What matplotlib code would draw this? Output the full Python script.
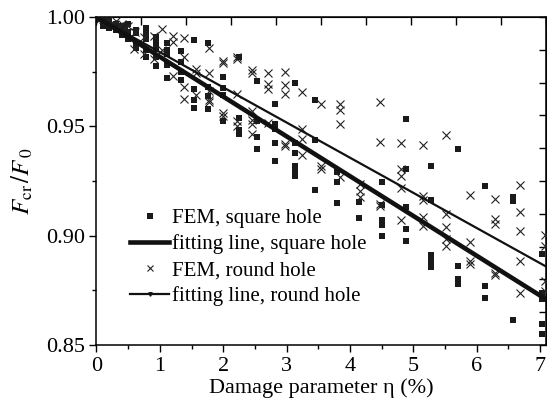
import numpy as np
import matplotlib
matplotlib.use('Agg')
import matplotlib.pyplot as plt
from matplotlib.lines import Line2D

plt.rcParams['font.family'] = ['Liberation Serif', 'DejaVu Serif']
plt.rcParams['mathtext.fontset'] = 'stix'

# FEM results, square hole (damage %, F_cr/F_0)
sq_x = [0.05, 0.1, 0.1, 0.15, 0.2, 0.2, 0.25, 0.3, 0.3, 0.35, 0.4, 0.4, 0.45,
        0.5, 0.5, 0.5, 0.63, 0.63, 0.63, 0.63,
        0.78, 0.78, 0.78, 0.78, 0.78, 0.94, 0.94, 0.94, 0.94, 0.94,
        1.12, 1.12, 1.12, 1.12, 1.12, 1.33, 1.33, 1.33, 1.33,
        1.54, 1.54, 1.54, 1.54, 1.76, 1.76, 1.76, 1.76,
        2.0, 2.0, 2.0, 2.0, 2.25, 2.25, 2.25, 2.25,
        2.53, 2.53, 2.53, 2.53, 2.82, 2.82, 2.82, 2.82, 2.82,
        3.13, 3.13, 3.13, 3.13, 3.13, 3.13, 3.45, 3.45, 3.45,
        3.79, 3.79, 3.79, 4.14, 4.14, 4.5, 4.5, 4.5, 4.5, 4.5,
        4.88, 4.88, 4.88, 4.88, 4.88, 5.28, 5.28, 5.28, 5.28, 5.28,
        5.70, 5.70, 5.70, 5.70, 6.13, 6.13, 6.13, 6.57, 6.57, 6.57,
        7.03, 7.03, 7.03, 7.03, 7.03, 7.03]
sq_y = [0.999, 0.998, 0.996, 0.997, 0.998, 0.995, 0.996, 0.997, 0.994, 0.995, 0.996, 0.992, 0.994,
        0.997, 0.993, 0.990, 0.994, 0.9925, 0.988, 0.986,
        0.9948, 0.9925, 0.990, 0.985, 0.9815, 0.991, 0.988, 0.9856, 0.9815, 0.9775,
        0.988, 0.985, 0.9833, 0.978, 0.972, 0.9845, 0.9795, 0.975, 0.971,
        0.9895, 0.967, 0.962, 0.9586, 0.988, 0.9678, 0.9639, 0.958,
        0.9726, 0.9674, 0.9642, 0.9524, 0.9818, 0.954, 0.9482, 0.9463,
        0.9708, 0.9524, 0.9451, 0.9398, 0.960, 0.9512, 0.949, 0.9423, 0.934,
        0.9697, 0.9423, 0.9378, 0.932, 0.9298, 0.9275, 0.962, 0.9436, 0.921,
        0.929, 0.9245, 0.915, 0.9153, 0.908, 0.9245, 0.914, 0.907, 0.905, 0.900,
        0.9535, 0.9306, 0.913, 0.903, 0.8977, 0.9318, 0.9164, 0.891, 0.8885, 0.8855,
        0.9398, 0.886, 0.880, 0.878, 0.9226, 0.877, 0.8714, 0.9176, 0.916, 0.8613,
        0.8916, 0.874, 0.8725, 0.871, 0.8597, 0.855]

# FEM results, round hole
rd_x = [0.05, 0.1, 0.15, 0.2, 0.25, 0.3, 0.35, 0.4, 0.45, 0.5, 0.59, 0.6, 0.75, 0.75,
        0.91, 0.91, 1.04, 1.04, 1.21, 1.21, 1.21, 1.38, 1.38, 1.38, 1.38,
        1.57, 1.57, 1.57, 1.78, 1.78, 1.78, 1.78, 1.78, 1.99, 1.99, 1.99, 1.99,
        2.22, 2.22, 2.22, 2.22, 2.22, 2.46, 2.46, 2.46, 2.46, 2.46, 2.46,
        2.71, 2.71, 2.71, 2.71, 2.97, 2.97, 2.97, 2.97, 2.97,
        3.25, 3.25, 3.25, 3.25, 3.54, 3.54, 3.54, 3.84, 3.84, 3.84, 3.84,
        4.16, 4.16, 4.16, 4.47, 4.47, 4.47, 4.47, 4.81, 4.81, 4.81, 4.81, 4.81,
        5.15, 5.15, 5.15, 5.15, 5.15, 5.52, 5.52, 5.52, 5.52, 5.52,
        5.9, 5.9, 5.9, 5.9, 6.29, 6.29, 6.29, 6.29, 6.29,
        6.68, 6.68, 6.68, 6.68, 6.68, 7.07, 7.07, 7.07, 7.07]
rd_y = [0.999, 0.999, 0.998, 0.999, 0.997, 0.998, 0.996, 0.997, 0.995, 0.996, 0.9853, 0.993, 0.983, 0.991,
        0.9914, 0.981, 0.9945, 0.985, 0.9914, 0.9888, 0.973, 0.9904, 0.9815, 0.968, 0.9624,
        0.9761, 0.9746, 0.9642, 0.986, 0.9742, 0.9662, 0.962, 0.961, 0.980, 0.9788, 0.9563, 0.9547,
        0.9818, 0.9806, 0.9647, 0.9524, 0.950, 0.9757, 0.9745, 0.957, 0.9527, 0.951, 0.9466,
        0.9743, 0.9693, 0.967, 0.9515, 0.9749, 0.9688, 0.9647, 0.942, 0.9408,
        0.9657, 0.9489, 0.9444, 0.9367, 0.960, 0.932, 0.9306, 0.960, 0.9577, 0.951, 0.9267,
        0.9237, 0.9206, 0.9176, 0.9612, 0.943, 0.9145, 0.9135, 0.9423, 0.9306, 0.9275, 0.922, 0.907,
        0.9413, 0.9183, 0.9165, 0.9084, 0.9046, 0.9459, 0.910, 0.9038, 0.8985, 0.8954,
        0.9187, 0.8972, 0.8885, 0.887, 0.9168, 0.9077, 0.9054, 0.883, 0.882,
        0.923, 0.9107, 0.902, 0.8885, 0.874, 0.9005, 0.8954, 0.8794, 0.8748]

# fitting lines (end points)
fit_x = [0.0, 7.1]
fit_sq = [1.0, 0.8708]
fit_rd = [1.0, 0.8858]

fig = plt.figure(figsize=(5.47, 4.08), dpi=100)
ax = fig.add_axes([0.1764, 0.1544, 0.8226, 0.8039])

ax.plot(sq_x, sq_y, 's', color='#1a1a1a', ms=4.6, mew=0, zorder=3)
ax.plot(fit_x, fit_sq, '-', color='#111111', lw=3.3, zorder=4)
ax.plot(rd_x, rd_y, 'x', color='#222222', ms=6, mew=0.8, zorder=3)
ax.plot(fit_x, fit_rd, '-', color='#111111', lw=1.6, zorder=4)

ax.set_xlim(0, 7.1)
ax.set_ylim(0.85, 1.0)
ax.set_xticks(np.arange(0, 8, 1))
ax.set_xticks(np.arange(0.5, 7.1, 1), minor=True)
ax.set_yticks([0.85, 0.90, 0.95, 1.00])
ax.set_yticks([0.875, 0.925, 0.975], minor=True)
ax.yaxis.set_major_formatter(plt.FormatStrFormatter('%.2f'))
ax.tick_params(which='major', direction='out', length=5, width=1, labelsize=16, top=False, right=False)
ax.tick_params(which='minor', direction='out', length=3, width=1, top=False, right=False)
for s in ax.spines.values():
    s.set_linewidth(1.1)

# mirrored axes with their own tick spacing
axt = ax.secondary_xaxis('top')
axt.set_xticks(np.linspace(0, 7.1, 11))
axt.tick_params(direction='in', length=6, width=1, labeltop=False)
axr = ax.secondary_yaxis('right')
axr.set_yticks(np.linspace(0.85, 1.0, 11))
axr.tick_params(direction='in', length=5, width=1, labelright=False)

ax.set_xlabel('Damage parameter η (%)', fontsize=16, labelpad=2)
ax.set_ylabel(r'$F_{\rm cr}\,/F_{\,0}$', fontsize=18, labelpad=8)

handles = [
    Line2D([], [], ls='none', marker='s', color='#1a1a1a', ms=4.6, mew=0),
    Line2D([], [], ls='-', color='#111111', lw=3.3),
    Line2D([], [], ls='none', marker='x', color='#222222', ms=4.5, mew=0.8),
    Line2D([], [], ls='-', color='#111111', lw=1.6, marker='v', ms=2.5),
]
labels = ['FEM, square hole', 'fitting line, square hole',
          'FEM, round hole', 'fitting line, round hole']
ax.legend(handles, labels, loc='upper left', bbox_to_anchor=(0.074, 0.416),
          frameon=False, fontsize=15, handlelength=1.9, handletextpad=0.15,
          labelspacing=0.3, borderpad=0, borderaxespad=0)

fig.savefig('out.png', dpi=100)
